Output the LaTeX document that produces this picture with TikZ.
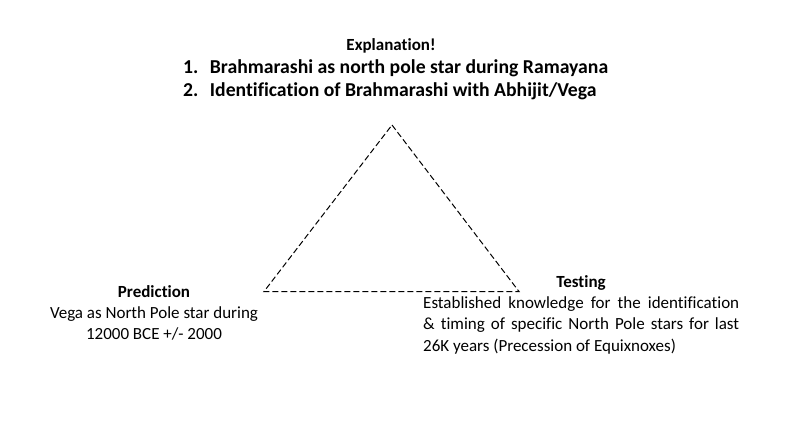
\documentclass[tikz,border=0pt]{standalone}
\usepackage{fontspec}
\setmainfont[Ligatures={NoCommon}]{Carlito}
\begin{document}
\begin{tikzpicture}[x=1pt,y=-1pt,
  tri/.style={draw=black,line width=1pt,dash pattern=on 6pt off 3pt},
  lbl/.style={inner sep=0pt,anchor=base,font=\fontsize{17}{21}\selectfont},
  blbl/.style={lbl,font=\fontsize{17}{21}\selectfont\bfseries},
  item/.style={inner sep=0pt,anchor=base west,font=\fontsize{19.7}{23}\selectfont\bfseries}]
\useasboundingbox (0,0) rectangle (794,420);
\coordinate (apex) at (392,125);
\coordinate (bl) at (264,291.5);
\coordinate (br) at (519,291.5);
\draw[tri] (apex) -- (br) -- (bl) -- cycle;
\node[blbl] (expl) at (391,51) {Explanation!};
\node[item] (i1) at (183,73) {1.\hspace{11.5pt}Brahmarashi as north pole star during Ramayana};
\node[item] (i2) at (183,96) {2.\hspace{11.5pt}Identification of Brahmarashi with Abhijit/Vega};
\node[blbl] (pred) at (154,297) {Prediction};
\node[lbl] (pred1) at (154,318) {Vega as North Pole star during};
\node[lbl] (pred2) at (154,339) {12000 BCE +/- 2000};
\node[blbl] (test) at (581,287) {Testing};
\node[inner sep=0pt,anchor=base west,font=\fontsize{17}{21.7}\selectfont] (testt) at (423,308) {\parbox[t]{316pt}{Established knowledge for the identification\linebreak \& timing of specific North Pole stars for last\linebreak 26K years (Precession of Equixnoxes)}};
\end{tikzpicture}
\end{document}
